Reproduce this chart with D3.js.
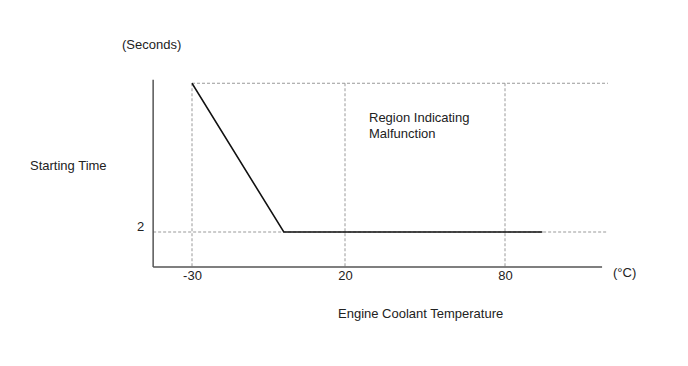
<!DOCTYPE html>
<html>
<head>
<meta charset="utf-8">
<script src="https://cdn.jsdelivr.net/npm/d3@7"></script>
<style>
  html, body { margin: 0; padding: 0; background: #fff; }
  svg { display: block; }
  text { font-family: "Liberation Sans", Arial, sans-serif; font-size: 13px; fill: #222; }
</style>
</head>
<body>
<svg id="chart" width="688" height="366"></svg>
<script>
// Data
const tempTicks = [-30, 20, 80];
const tempTickLabels = ["-30", "20", "80"];
const timeTicks = [2];
const timeTickLabels = ["2"];
const lineTemps = [-30, 0, 94];
const lineTimes = [10.5, 2, 2];
const axisTempMin = -42.7, axisTempMax = 116.4, gridTempMax = 118.6;
const timeTop = 10.5, timeAxisMax = 10.7;

const svg = d3.select("#chart");

const x = d3.scaleLinear().domain([-30, 20, 80]).range([192, 345, 505]);
const y = d3.scaleLinear().domain([0, 2]).range([267, 232]);

const gridColor = "#999";
const dash = "3,2";
const FONT = "Liberation Sans, Arial, sans-serif";

// horizontal dashed reference lines
svg.append("line")
  .attr("x1", x(axisTempMin)).attr("x2", x(gridTempMax))
  .attr("y1", y(2)).attr("y2", y(2))
  .attr("stroke", gridColor).attr("stroke-dasharray", dash).attr("stroke-width", 1);
svg.append("line")
  .attr("x1", x(-30)).attr("x2", x(gridTempMax))
  .attr("y1", y(timeTop)).attr("y2", y(timeTop))
  .attr("stroke", gridColor).attr("stroke-dasharray", dash).attr("stroke-width", 1);

// vertical dashed reference lines
svg.selectAll("line.vgrid").data(tempTicks).enter().append("line")
  .attr("class", "vgrid")
  .attr("x1", d => x(d)).attr("x2", d => x(d))
  .attr("y1", y(timeTop)).attr("y2", y(0))
  .attr("stroke", gridColor).attr("stroke-dasharray", dash).attr("stroke-width", 1);

// axes lines
svg.append("line")
  .attr("x1", x(axisTempMin)).attr("x2", x(axisTempMax))
  .attr("y1", y(0)).attr("y2", y(0))
  .attr("stroke", "#555").attr("stroke-width", 1.5);
svg.append("line")
  .attr("x1", x(axisTempMin)).attr("x2", x(axisTempMin))
  .attr("y1", y(0)).attr("y2", y(timeAxisMax))
  .attr("stroke", "#555").attr("stroke-width", 1.5);

// x axis labels
const xAxis = d3.axisBottom(x).tickValues(tempTicks)
  .tickFormat((d, i) => tempTickLabels[i]).tickSize(0).tickPadding(4);
const gx = svg.append("g").attr("transform", `translate(0,${y(0)})`).call(xAxis);
gx.select(".domain").remove();
gx.selectAll("text").attr("font-size", 13).attr("font-family", FONT).attr("fill", "#222");

// y axis labels
const yAxis = d3.axisLeft(y).tickValues(timeTicks)
  .tickFormat((d, i) => timeTickLabels[i]).tickSize(0).tickPadding(9);
const gy = svg.append("g").attr("transform", `translate(${x(axisTempMin)},-6)`).call(yAxis);
gy.select(".domain").remove();
gy.selectAll("text").attr("font-size", 13).attr("font-family", FONT).attr("fill", "#222");

// data line
const line = d3.line().x(d => x(d[0])).y(d => y(d[1]));
svg.append("path")
  .datum(lineTemps.map((t, i) => [t, lineTimes[i]]))
  .attr("d", line)
  .attr("fill", "none").attr("stroke", "#111").attr("stroke-width", 1.5);

// texts
svg.append("text").attr("x", 122).attr("y", 49).text("(Seconds)");
svg.append("text").attr("x", 30).attr("y", 170).text("Starting Time");
svg.append("text").attr("x", 613).attr("y", 277).text("(°C)");
svg.append("text").attr("x", 338).attr("y", 318).text("Engine Coolant Temperature");
svg.append("text").attr("x", 369).attr("y", 122).text("Region Indicating");
svg.append("text").attr("x", 369).attr("y", 138).text("Malfunction");
</script>
</body>
</html>
